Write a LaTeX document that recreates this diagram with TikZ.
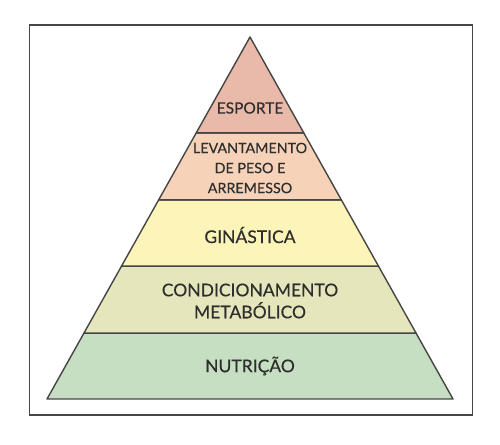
\documentclass[tikz,border=0pt]{standalone}
\usepackage{fontspec}
\setmainfont{Lato}[FakeBold=0.4]
\usetikzlibrary{calc}
\definecolor{cEsp}{HTML}{E9B9A9}
\definecolor{cLev}{HTML}{F6D3B8}
\definecolor{cGin}{HTML}{FCF4B9}
\definecolor{cCon}{HTML}{E5E6BC}
\definecolor{cNut}{HTML}{C6DFC2}
\definecolor{cLine}{HTML}{454545}
\definecolor{cText}{HTML}{2E2E2E}
\tikzset{
  layer/.style={draw=cLine, line width=1.4pt, line join=round},
  lbl/.style={text=cText, align=center, inner sep=0pt, font=\fontsize{17.5}{22}\selectfont},
  lblsmall/.style={text=cText, align=center, inner sep=0pt, font=\fontsize{14.3}{20}\selectfont},
}
\begin{document}
\begin{tikzpicture}[x=1pt,y=1pt]
\useasboundingbox (0,0) rectangle (500,444);
\draw[cLine, line width=1.4pt] (29.5,29) rectangle (472.5,419);
\coordinate (apex) at (250,407);
\coordinate (bl) at (47,45);
\coordinate (br) at (453,45);
\coordinate (l1) at ($(apex)!0.265!(bl)$);
\coordinate (r1) at ($(apex)!0.265!(br)$);
\coordinate (l2) at ($(apex)!0.450!(bl)$);
\coordinate (r2) at ($(apex)!0.450!(br)$);
\coordinate (l3) at ($(apex)!0.633!(bl)$);
\coordinate (r3) at ($(apex)!0.633!(br)$);
\coordinate (l4) at ($(apex)!0.818!(bl)$);
\coordinate (r4) at ($(apex)!0.818!(br)$);
\filldraw[layer, fill=cNut] (l4) -- (bl) -- (br) -- (r4) -- cycle;
\filldraw[layer, fill=cCon] (l3) -- (l4) -- (r4) -- (r3) -- cycle;
\filldraw[layer, fill=cGin] (l2) -- (l3) -- (r3) -- (r2) -- cycle;
\filldraw[layer, fill=cLev] (l1) -- (l2) -- (r2) -- (r1) -- cycle;
\filldraw[layer, fill=cEsp] (apex) -- (l1) -- (r1) -- cycle;
\node[lblsmall] (esp) at (250,336) {\fontsize{15.5}{16}\selectfont ESPORTE};
\node[lblsmall] (lev) at (250,276) {LEVANTAMENTO\\DE PESO E\\ARREMESSO};
\node[lbl] (gin) at (250,209) {GINÁSTICA};
\node[lbl] (con) at (250,143) {CONDICIONAMENTO\\METABÓLICO};
\node[lbl] (nut) at (250,78) {NUTRIÇÃO};
\end{tikzpicture}
\end{document}
